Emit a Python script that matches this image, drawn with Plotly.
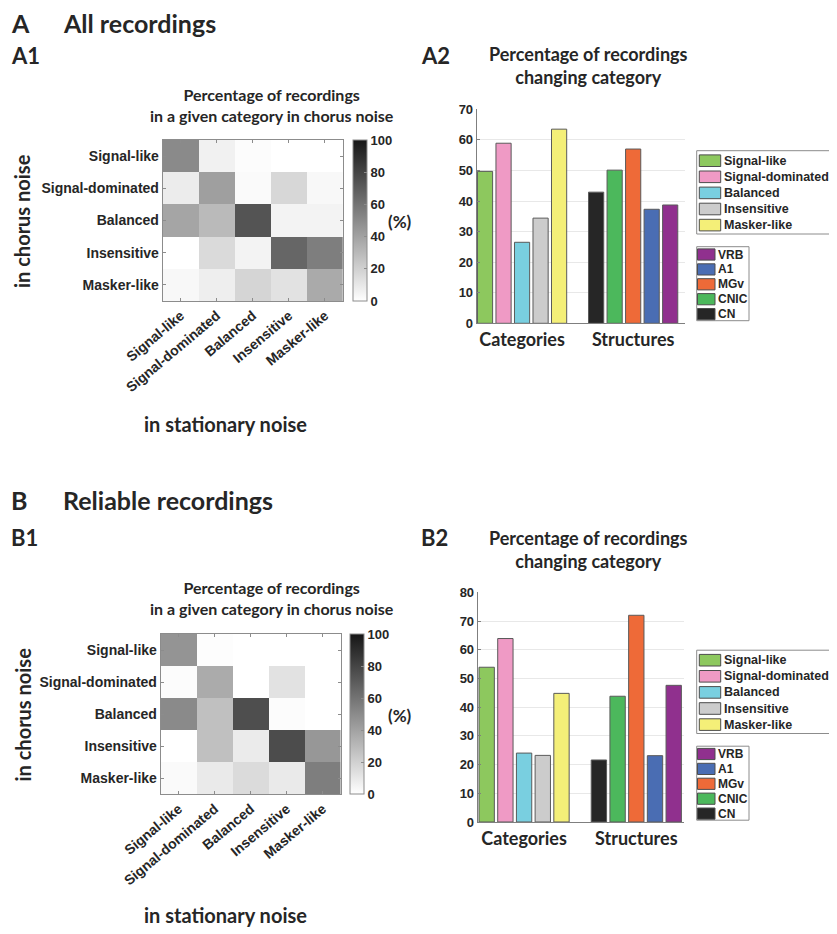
import plotly.graph_objects as go

W, H = 837, 934
OFF = 8  # the page body adds an 8 px margin around the figure

# ---------------- data ----------------
categories = ["Signal-like", "Signal-dominated", "Balanced", "Insensitive", "Masker-like"]
structures = ["CN", "CNIC", "MGv", "A1", "VRB"]
group_labels = ["Categories", "Structures"]

# rows: category in chorus noise, columns: category in stationary noise (%)
all_signal_like_row = [50.3, 6.0, 1.5, 0.0, 0.0]
all_signal_dom_row = [8.0, 41.1, 2.0, 17.0, 3.0]
all_balanced_row = [38.7, 29.5, 73.5, 5.0, 5.0]
all_insensitive_row = [0.0, 16.0, 5.0, 65.6, 55.5]
all_masker_row = [3.0, 7.4, 18.0, 12.4, 36.5]

rel_signal_like_row = [46.1, 1.0, 0.0, 0.0, 0.0]
rel_signal_dom_row = [1.5, 36.1, 0.0, 12.5, 0.0]
rel_balanced_row = [50.4, 27.0, 76.0, 1.5, 0.0]
rel_insensitive_row = [0.0, 27.0, 8.5, 76.8, 44.8]
rel_masker_row = [2.0, 8.9, 15.5, 9.2, 55.2]

# percentage of recordings changing category
all_change_categories = [49.7, 58.9, 26.5, 34.4, 63.5]
all_change_structures = [42.9, 50.1, 57.0, 37.3, 38.7]
rel_change_categories = [53.9, 63.9, 24.0, 23.2, 44.8]
rel_change_structures = [21.6, 43.8, 72.0, 23.1, 47.6]

colorbar_ticks = [0, 20, 40, 60, 80, 100]

# ---------------- styles ----------------
cat_colors = ["#8dc85e", "#ef9ac5", "#79cfe0", "#cccccc", "#f4ef78"]
struct_colors = ["#262626", "#4cb85c", "#ee6a38", "#4a6db3", "#90308e"]
TXT = "#262626"
FRAME = "#8c8c8c"
TICKFONT = dict(family="Liberation Sans", size=14, color=TXT, weight="bold")
SMALLFONT = dict(family="Liberation Sans", size=13, color=TXT, weight="bold")


def fx(px):
    return (px - OFF) / W


def fy(py):
    return 1 - (py - OFF) / H


fig = go.Figure()

heat_scale = [[0, "#ffffff"], [1, "#161616"]]


def add_heatmap(z, xa, ya, cb_x, cb_y, cb_len):
    fig.add_trace(go.Heatmap(
        z=z, x=categories, y=categories, xaxis=xa, yaxis=ya,
        colorscale=heat_scale, zmin=0, zmax=100, showscale=True,
        colorbar=dict(
            x=fx(cb_x), xanchor="left", xref="paper",
            y=fy(cb_y), yanchor="middle", yref="paper",
            len=cb_len, lenmode="pixels", thickness=14, thicknessmode="pixels",
            outlinewidth=1, outlinecolor=FRAME, xpad=0, ypad=0,
            tickvals=colorbar_ticks, ticks="inside", ticklen=3, tickcolor=FRAME,
            tickfont=SMALLFONT,
        ),
    ))


add_heatmap([all_signal_like_row, all_signal_dom_row, all_balanced_row,
             all_insensitive_row, all_masker_row], "x", "y", 352.7, 220.5, 161)
add_heatmap([rel_signal_like_row, rel_signal_dom_row, rel_balanced_row,
             rel_insensitive_row, rel_masker_row], "x3", "y3", 350.0, 714.0, 160)

cat_pos = [i + 1 for i in range(len(categories))]
struct_pos = [len(categories) + 2 + i for i in range(len(structures))]
group_pos = [sum(cat_pos) / len(cat_pos), sum(struct_pos) / len(struct_pos)]

BAR_EDGE = "#5a5a5a"


def add_bars(cat_vals, struct_vals, xa, ya):
    for name, pos, val, col in zip(categories, cat_pos, cat_vals, cat_colors):
        fig.add_trace(go.Bar(
            x=[pos], y=[val], name=name, xaxis=xa, yaxis=ya, width=0.82,
            marker=dict(color=col, line=dict(color=BAR_EDGE, width=1)),
            showlegend=False,
        ))
    for name, pos, val, col in zip(structures, struct_pos, struct_vals, struct_colors):
        fig.add_trace(go.Bar(
            x=[pos], y=[val], name=name, xaxis=xa, yaxis=ya, width=0.82,
            marker=dict(color=col, line=dict(color=BAR_EDGE, width=1)),
            showlegend=False,
        ))


add_bars(all_change_categories, all_change_structures, "x2", "y2")
add_bars(rel_change_categories, rel_change_structures, "x4", "y4")

heat_x = dict(showline=True, linecolor=FRAME, linewidth=1, mirror="allticks",
              ticks="inside", ticklen=3, tickcolor=FRAME, tickangle=-40,
              tickfont=TICKFONT, showgrid=False, zeroline=False)
heat_y = dict(showline=True, linecolor=FRAME, linewidth=1, mirror="allticks",
              ticks="inside", ticklen=3, tickcolor=FRAME, autorange="reversed",
              tickfont=TICKFONT, showgrid=False, zeroline=False)

bar_x = dict(showline=True, linecolor="#7f7f7f", linewidth=1, ticks="",
             tickvals=group_pos, ticktext=group_labels, range=[0.55, 11.8],
             tickfont=dict(family="Lato", size=18, color=TXT, weight="bold"),
             showgrid=False, zeroline=False)


def bar_y(top):
    return dict(showline=True, linecolor="#7f7f7f", linewidth=1, ticks="inside",
                ticklen=3, tickcolor="#7f7f7f", range=[0, top], dtick=10,
                showgrid=True, gridcolor="#e8e8e8", zeroline=False, tickfont=SMALLFONT)


fig.update_layout(
    width=W, height=H, margin=dict(l=0, r=0, t=0, b=0, autoexpand=False),
    paper_bgcolor="white", plot_bgcolor="white",
    barmode="overlay", showlegend=False,
    xaxis=dict(domain=[fx(162.7), fx(343.0)], anchor="y", **heat_x),
    yaxis=dict(domain=[fy(301.0), fy(140.0)], anchor="x", **heat_y),
    xaxis2=dict(domain=[fx(476.7), fx(685.0)], anchor="y2", **bar_x),
    yaxis2=dict(domain=[fy(323.3), fy(109.3)], anchor="x2", **bar_y(70)),
    xaxis3=dict(domain=[fx(160.7), fx(340.7)], anchor="y3", **heat_x),
    yaxis3=dict(domain=[fy(794.3), fy(634.0)], anchor="x3", **heat_y),
    xaxis4=dict(domain=[fx(477.7), fx(684.0)], anchor="y4", **dict(bar_x, range=[0.52, 11.55])),
    yaxis4=dict(domain=[fy(822.0), fy(592.3)], anchor="x4", **bar_y(80)),
)


def note(text, px, py, size, angle=0, xanchor="center", weight="bold",
         family="Lato"):
    fig.add_annotation(
        text=text, x=fx(px), y=fy(py), xref="paper", yref="paper",
        xanchor=xanchor, yanchor="middle", showarrow=False, textangle=angle,
        font=dict(family=family, size=size, color=TXT, weight=weight),
    )


def rect(x0, x1, y0, y1, fill, line_color, width=1):
    fig.add_shape(type="rect", xref="paper", yref="paper",
                  x0=fx(x0), x1=fx(x1), y0=fy(y1), y1=fy(y0),
                  fillcolor=fill, line=dict(color=line_color, width=width))


def legend_box(names, colors, box, first_center, step, sym_x, sym_half, text_x, size):
    rect(box[0], box[1], box[2], box[3], "white", FRAME)
    for i, (nm, col) in enumerate(zip(names, colors)):
        cy = first_center + i * step
        rect(sym_x[0], sym_x[1], cy - sym_half, cy + sym_half, col, "#4d4d4d")
        note(nm, text_x, cy, size, xanchor="left", family="Liberation Sans")


for off in (0.0, 499.5):
    legend_box(categories, cat_colors, (696.7, 835.0, 150.7 + off, 234.0 + off),
               160.7 + off, 16.1, (699.3, 720.7), 5.8, 721.5, 12.5)
    legend_box(structures[::-1], struct_colors[::-1], (696.7, 749.0, 246.7 + off, 320.7 + off),
               254.5 + off, 14.9, (697.5, 715.0), 5.6, 715.5, 12)

# panel headings
note("A", 9, 23, 25, xanchor="left")
note("All recordings", 61, 23, 25, xanchor="left")
note("A1", 9, 56, 22, xanchor="left")
note("A2", 419, 55, 22, xanchor="left")
note("B", 9, 500, 25, xanchor="left")
note("Reliable recordings", 61, 500, 25, xanchor="left")
note("B1", 9, 537, 22, xanchor="left")
note("B2", 419, 537, 22, xanchor="left")

# heatmap titles
for cy, hc in [(105, 220.5), (598, 714)]:
    note("Percentage of recordings<br>in a given category in chorus noise", 271.7, cy, 16)
    note("in chorus noise", 22, hc + 0.5, 20, angle=-90)
    note("(%)", 400, hc + 1.5, 17)
note("in stationary noise", 225, 424, 20)
note("in stationary noise", 225, 915, 20)

# bar chart titles
note("Percentage of recordings<br>changing category", 588, 65.5, 18)
note("Percentage of recordings<br>changing category", 588, 549, 18)

fig.write_html("out.html")
